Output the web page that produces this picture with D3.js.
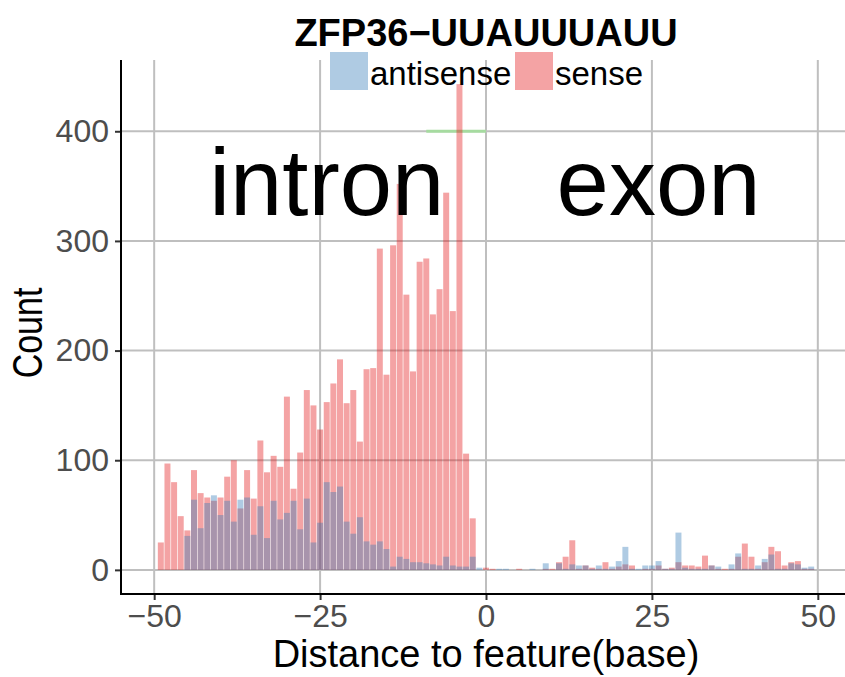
<!DOCTYPE html>
<html>
<head>
<meta charset="utf-8">
<script src="https://cdn.jsdelivr.net/npm/d3@7"></script>
<style>
  body { margin: 0; background: #fff; }
  text { font-family: "Liberation Sans", Arial, sans-serif; }
</style>
</head>
<body>
<script>
// posizioni (distanza dalla feature) e conteggi
const positions = [-49,-48,-47,-46,-45,-44,-43,-42,-41,-40,-39,-38,-37,-36,-35,-34,-33,-32,-31,-30,
  -29,-28,-27,-26,-25,-24,-23,-22,-21,-20,-19,-18,-17,-16,-15,-14,-13,-12,-11,-10,
  -9,-8,-7,-6,-5,-4,-3,-2,-1,0,1,2,3,4,5,6,7,8,9,10,11,12,13,14,15,16,17,18,19,20,
  21,22,23,24,25,26,27,28,29,30,31,32,33,34,35,36,37,38,39,40,41,42,43,44,45,46,47,48,49];

const sense = [25,97,80,49,36,91,70,66,63,66,85,100,56,91,65,118,89,104,94,158,
  74,107,164,150,128,153,170,192,152,164,117,183,184,293,178,296,352,251,181,281,
  284,233,256,344,236,443,106,47,0,2,1,0,0,0,1,0,0,0,1,1,7,12,27,1,4,2,1,7,1,3,
  5,4,0,1,1,4,1,2,7,4,4,3,13,4,1,1,1,12,24,12,1,7,21,17,4,7,8,1,1];

const antisense = [0,0,0,0,31,64,38,61,68,50,63,44,64,66,32,58,29,63,46,52,
  63,37,65,25,43,80,71,76,44,33,48,26,23,26,19,3,12,10,7,7,
  6,5,4,12,4,3,3,12,2,0,0,1,1,0,0,0,1,0,6,0,6,1,5,4,4,1,4,1,3,8,
  21,1,1,4,4,8,1,1,34,2,1,1,1,4,3,0,5,15,1,1,4,10,14,1,1,6,5,2,3];

const xTicks = [-50, -25, 0, 25, 50];
const yTicks = [0, 100, 200, 300, 400];
const seriesNames = ["antisense", "sense"];
const seriesColors = ["#377EB8", "#E41A1C"];
const regionLabels = [{label: "intron", x: -24, y: 324}, {label: "exon", x: 26, y: 324}];
const greenSeg = {x1: -9, x2: 0, y: 400};

const width = 845;
const height = 677;
const marginLeft = 121;
const marginTop = 60;
const plotRight = 851;
const plotBottom = 594;

const svg = d3.create("svg")
  .attr("width", width)
  .attr("height", height);

const xScale = d3.scaleLinear().domain([-55, 55]).range([marginLeft, plotRight]);
const yScale = d3.scaleLinear().domain([-22, 465]).range([plotBottom, marginTop]);

// griglia
svg.append("g").selectAll("line")
  .data(xTicks).join("line")
  .attr("x1", d => xScale(d)).attr("x2", d => xScale(d))
  .attr("y1", marginTop).attr("y2", plotBottom)
  .attr("stroke", "#bfbfbf").attr("stroke-width", 2);
svg.append("g").selectAll("line")
  .data(yTicks).join("line")
  .attr("x1", marginLeft).attr("x2", plotRight)
  .attr("y1", d => yScale(d)).attr("y2", d => yScale(d))
  .attr("stroke", "#bfbfbf").attr("stroke-width", 2);

// segmento verde
svg.append("line")
  .attr("x1", xScale(greenSeg.x1)).attr("x2", xScale(greenSeg.x2))
  .attr("y1", yScale(greenSeg.y)).attr("y2", yScale(greenSeg.y))
  .attr("stroke", "#a6dba0").attr("stroke-width", 3);

// barre: prima sense, poi antisense sopra
const bw = 0.45;
function drawBars(values, color) {
  svg.append("g").selectAll("rect")
    .data(positions.map((p, i) => ({p, v: values[i]})).filter(d => d.v > 0))
    .join("rect")
    .attr("x", d => xScale(d.p - bw))
    .attr("width", xScale(bw) - xScale(-bw))
    .attr("y", d => yScale(d.v))
    .attr("height", d => yScale(0) - yScale(d.v))
    .attr("fill", color)
    .attr("fill-opacity", 0.4);
}
drawBars(sense, seriesColors[1]);
drawBars(antisense, seriesColors[0]);

// testi intron / exon
svg.append("g").selectAll("text")
  .data(regionLabels).join("text")
  .attr("x", d => xScale(d.x))
  .attr("y", d => yScale(d.y))
  .attr("text-anchor", "middle")
  .attr("font-size", 94)
  .attr("fill", "#000")
  .text(d => d.label);

// assi
const yAxis = svg.append("g")
  .attr("transform", "translate(" + marginLeft + ",0)")
  .call(d3.axisLeft(yScale).tickValues(yTicks).tickSize(6).tickPadding(6))
  .call(g => g.select(".domain").remove());
yAxis.selectAll("line").attr("stroke", "#333").attr("stroke-width", 2);
yAxis.selectAll("text").attr("font-size", 32).attr("fill", "#4d4d4d")
  .attr("font-family", "Liberation Sans, Arial, sans-serif");

const xAxis = svg.append("g")
  .attr("transform", "translate(0," + plotBottom + ")")
  .call(d3.axisBottom(xScale).tickValues(xTicks).tickSize(6).tickPadding(4)
    .tickFormat(d => d < 0 ? "\u2212" + Math.abs(d) : d))
  .call(g => g.select(".domain").remove());
xAxis.selectAll("line").attr("stroke", "#333").attr("stroke-width", 2);
xAxis.selectAll("text").attr("font-size", 32).attr("fill", "#4d4d4d")
  .attr("font-family", "Liberation Sans, Arial, sans-serif");

svg.append("line")
  .attr("x1", marginLeft).attr("x2", marginLeft)
  .attr("y1", marginTop).attr("y2", plotBottom + 1)
  .attr("stroke", "#000").attr("stroke-width", 2);
svg.append("line")
  .attr("x1", marginLeft - 1).attr("x2", width)
  .attr("y1", plotBottom).attr("y2", plotBottom)
  .attr("stroke", "#000").attr("stroke-width", 2);

// titoli
svg.append("text")
  .attr("x", xScale(0)).attr("y", 46)
  .attr("text-anchor", "middle")
  .attr("font-size", 38).attr("font-weight", "bold")
  .text("ZFP36\u2212UUAUUUAUU");

svg.append("text")
  .attr("x", xScale(0)).attr("y", 667)
  .attr("text-anchor", "middle")
  .attr("font-size", 38)
  .text("Distance to feature(base)");

svg.append("text")
  .attr("transform", "translate(42," + ((marginTop + plotBottom) / 2 + 6) + ") rotate(-90) scale(1,1.25)")
  .attr("text-anchor", "middle")
  .attr("font-size", 34)
  .text("Count");

// legenda
const legend = svg.append("g");
const legendItems = [
  {name: seriesNames[0], color: seriesColors[0], x: 330},
  {name: seriesNames[1], color: seriesColors[1], x: 515}
];
legend.selectAll("rect")
  .data(legendItems).join("rect")
  .attr("x", d => d.x).attr("y", 52)
  .attr("width", 38).attr("height", 38)
  .attr("fill", d => d.color).attr("fill-opacity", 0.4);
legend.selectAll("text")
  .data(legendItems).join("text")
  .attr("x", d => d.x + 40).attr("y", 85)
  .attr("font-size", 33)
  .text(d => d.name);

document.body.appendChild(svg.node());
</script>
</body>
</html>
